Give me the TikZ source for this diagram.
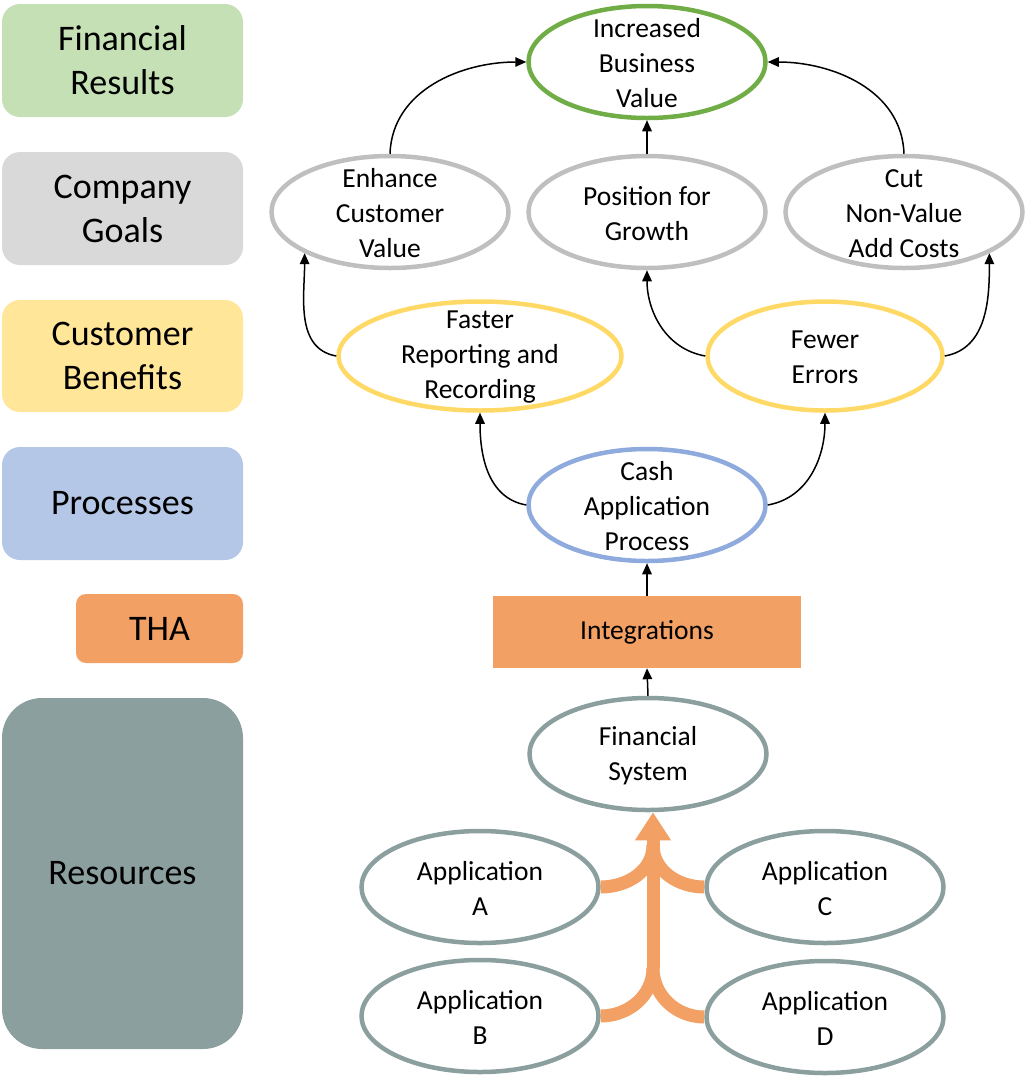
\documentclass[tikz,border=0pt]{standalone}
\usepackage{fontspec}
\setmainfont{Carlito}
\usetikzlibrary{shapes.geometric,arrows.meta}
\definecolor{finfill}{HTML}{C5E0B4}
\definecolor{goalfill}{HTML}{D9D9D9}
\definecolor{benfill}{HTML}{FFE699}
\definecolor{procfill}{HTML}{B4C7E7}
\definecolor{thaorange}{HTML}{F2A064}
\definecolor{resfill}{HTML}{8C9F9F}
\definecolor{greenline}{HTML}{70AD47}
\definecolor{grayline}{HTML}{BFBFBF}
\definecolor{yellowline}{HTML}{FFD966}
\definecolor{blueline}{HTML}{8FAADC}
\definecolor{resline}{HTML}{8C9F9F}
\begin{document}
\begin{tikzpicture}[x=1pt,y=-1pt,
  lab/.style={rounded corners=18pt, inner sep=0pt, minimum width=241pt, minimum height=113pt, align=center, font=\fontsize{36}{44}\selectfont},
  ell/.style={ellipse, draw, line width=4.5pt, fill=white, inner sep=0pt, minimum width=237pt, minimum height=112pt},
  txt/.style={align=center, font=\fontsize{27.5}{35}\selectfont, inner sep=0pt, yshift=-1.5pt},
  conn/.style={-{Triangle[length=11pt,width=9.5pt]}, line width=1.5pt, black},
  fat/.style={line width=13pt, thaorange},
]
\useasboundingbox (0,0) rectangle (1026,1077);

% left labels
\node[lab, fill=finfill] (lfin) at (122.5,60.5) {Financial\\Results};
\node[lab, fill=goalfill] (lgoal) at (122.5,208.5) {Company\\Goals};
\node[lab, fill=benfill, minimum height=112pt] (lben) at (122.5,356) {Customer\\Benefits};
\node[lab, fill=procfill] (lproc) at (122.5,503.5) {Processes};
\node[lab, fill=thaorange, rounded corners=10pt, minimum width=167pt, minimum height=69pt] (ltha) at (159.5,628.5) {THA};
\node[lab, fill=resfill, rounded corners=40pt, minimum height=351pt] (lres) at (122.5,873.5) {Resources};

% ellipses
\node[ell, draw=greenline, label={[txt]center:Increased\\Business\\Value}] (ibv) at (647,62) {};
\node[ell, draw=grayline, label={[txt]center:Enhance\\Customer\\Value}] (ecv) at (390,212) {};
\node[ell, draw=grayline, label={[txt]center:Position for\\Growth}] (pfg) at (647,212) {};
\node[ell, draw=grayline, label={[txt]center:Cut\\Non-Value\\Add Costs}] (cut) at (904,212) {};
\node[ell, draw=yellowline, minimum width=283pt, minimum height=109pt, label={[txt]center:Faster\\Reporting and\\Recording}] (frr) at (480,356) {};
\node[ell, draw=yellowline, minimum width=235pt, minimum height=109pt, label={[txt]center:Fewer\\Errors}] (few) at (825,356) {};
\node[ell, draw=blueline, label={[txt]center:Cash\\Application\\Process}] (cap) at (647,505) {};
\node[fill=thaorange, minimum width=308pt, minimum height=72pt, inner sep=0pt, font=\fontsize{27.5}{35}\selectfont] (integ) at (647,632) {Integrations};
\node[ell, draw=resline, label={[txt]center:Financial\\System}] (fs) at (648,754) {};
\node[ell, draw=resline, label={[txt]center:Application\\A}] (appa) at (480,887) {};
\node[ell, draw=resline, label={[txt]center:Application\\C}] (appc) at (825,887) {};
\node[ell, draw=resline, label={[txt]center:Application\\B}] (appb) at (480,1016) {};
\node[ell, draw=resline, label={[txt]center:Application\\D}] (appd) at (825,1017) {};

% black connectors
\draw[conn] (ecv.north) to[out=88,in=180] (ibv.west);
\draw[conn] (cut.north) to[out=92,in=0] (ibv.east);
\draw[conn] (pfg.north) -- (ibv.south);
\draw[conn] (frr.west) to[out=170,in=270] (ecv.south west);
\draw[conn] (few.west) to[out=170,in=270] (pfg.south);
\draw[conn] (few.east) to[out=10,in=270] (cut.south east);
\draw[conn] (cap.west) to[out=170,in=270] (frr.south);
\draw[conn] (cap.east) to[out=10,in=270] (few.south);
\draw[conn] (integ.north) -- (cap.south);
\draw[conn] (fs.north) -- (integ.south);

% orange merge arrow
\coordinate (jtop) at (653,845);
\coordinate (jbot) at (653,968);
\draw[fat] (appa.east) to[out=0,in=270] (jtop);
\draw[fat] (appc.west) to[out=180,in=270] (jtop);
\draw[fat] (appb.east) to[out=0,in=270] (jbot);
\draw[fat] (appd.west) to[out=180,in=270] (jbot);
\draw[fat, -{Triangle[length=28pt,width=34pt]}] (jbot) -- (jbot |- fs.south);
\end{tikzpicture}
\end{document}
